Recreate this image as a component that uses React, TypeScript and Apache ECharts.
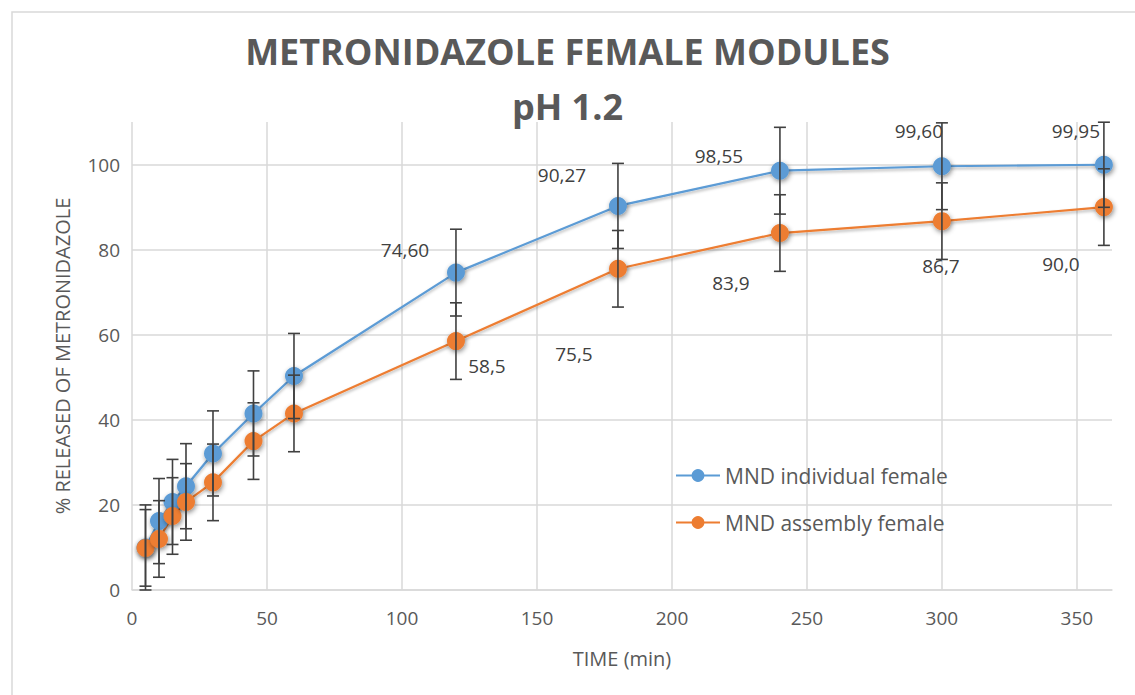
import React, { useEffect, useRef } from "react";
import * as echarts from "echarts";

const times = [5, 10, 15, 20, 30, 45, 60, 120, 180, 240, 300, 360];
const individual = [10.0, 16.2, 20.7, 24.4, 32.1, 41.5, 50.3, 74.6, 90.27, 98.55, 99.6, 99.95];
const assembly = [9.9, 12.0, 17.4, 20.7, 25.3, 35.0, 41.5, 58.5, 75.5, 83.9, 86.7, 90.0];
const individualErr = [10, 10, 10, 10, 10, 10, 10, 10.2, 10, 10.2, 10.2, 10];
const assemblyErr = [9, 9, 9, 9, 9, 9, 9, 9, 9, 9, 9, 9];
const labeledFrom = 7;
const individualLabelOffsets = [[-51, -23], [-56, -31], [-61, -15], [-23, -35], [-28, -34]];
const assemblyLabelOffsets = [[31, 25], [-44, 85], [-49, 50], [-1, 45], [-43, 57]];
const xTicks = [0, 50, 100, 150, 200, 250, 300, 350];
const yTicks = [0, 20, 40, 60, 80, 100];
const seriesNames = ["MND individual female", "MND assembly female"];

const BLUE = "#5B9BD5";
const ORANGE = "#ED7D31";
const TXT = "#595959";
const GRID = "#d9d9d9";
const FONT = "'Open Sans', 'Liberation Sans', sans-serif";

function buildLine(vals: number[], offsets: number[][], decimals: number) {
  return times.map((t, i) => {
    const item: any = { value: [t, vals[i]] };
    if (i >= labeledFrom) {
      const off = offsets[i - labeledFrom];
      item.label = {
        show: true,
        position: "inside",
        align: "center",
        verticalAlign: "middle",
        offset: off,
        formatter: vals[i].toFixed(decimals).replace(".", ","),
        color: "#404040",
        fontSize: 19,
        fontFamily: FONT,
      };
    }
    return item;
  });
}

function errData(vals: number[], errs: number[]) {
  return times.map((t, i) => [t, vals[i] - errs[i], vals[i] + errs[i]]);
}

const renderErr = (params: any, api: any) => {
  const x = api.value(0);
  const top = api.coord([x, api.value(2)]);
  const bot = api.coord([x, api.value(1)]);
  const w = 6;
  const style = { stroke: "#404040", lineWidth: 1.6 };
  return {
    type: "group",
    children: [
      { type: "line", shape: { x1: top[0], y1: top[1], x2: bot[0], y2: bot[1] }, style },
      { type: "line", shape: { x1: top[0] - w, y1: top[1], x2: top[0] + w, y2: top[1] }, style },
      { type: "line", shape: { x1: bot[0] - w, y1: bot[1], x2: bot[0] + w, y2: bot[1] }, style },
    ],
  };
};

export default function App() {
  const ref = useRef<HTMLDivElement>(null);
  useEffect(() => {
    if (!ref.current) return;
    const chart = echarts.init(ref.current, undefined, { renderer: "svg" });
    const symbolStyle = (c: string) => ({
      color: c,
      shadowBlur: 5,
      shadowColor: "rgba(0,0,0,0.45)",
      shadowOffsetX: 1,
      shadowOffsetY: 2,
    });
    chart.setOption({
      animation: false,
      backgroundColor: "#ffffff",
      textStyle: { fontFamily: FONT },
      title: {
        text: "METRONIDAZOLE FEMALE MODULES\npH 1.2",
        left: "center",
        top: 19,
        textStyle: {
          fontFamily: FONT,
          fontWeight: "bold",
          fontSize: 36,
          lineHeight: 55,
          color: TXT,
        },
      },
      graphic: [
        {
          type: "rect",
          shape: { x: 12, y: 12, width: 1140, height: 700 },
          style: { fill: "none", stroke: GRID, lineWidth: 1.5 },
          silent: true,
        },
      ],
      legend: {
        orient: "vertical",
        left: 670,
        top: 460,
        itemWidth: 44,
        itemHeight: 16,
        itemGap: 26,
        data: seriesNames,
        textStyle: { color: TXT, fontSize: 21, fontFamily: FONT },
      },
      grid: { left: 132, right: 23, top: 122, bottom: 105 },
      xAxis: {
        type: "value",
        min: 0,
        max: 363,
        interval: 50,
        name: "TIME (min)",
        nameLocation: "middle",
        nameGap: 58,
        nameTextStyle: { color: TXT, fontSize: 20, fontFamily: FONT },
        axisLine: { show: true, lineStyle: { color: GRID, width: 1.5 } },
        axisTick: { show: false },
        axisLabel: {
          color: TXT,
          fontSize: 19,
          margin: 18,
          formatter: (v: number) => (xTicks.includes(v) ? String(v) : ""),
        },
        splitLine: { show: true, showMaxLine: false, lineStyle: { color: GRID, width: 1.5 } },
      },
      yAxis: {
        type: "value",
        min: 0,
        max: 110,
        interval: 20,
        name: "% RELEASED OF METRONIDAZOLE",
        nameLocation: "middle",
        nameRotate: 90,
        nameGap: 60,
        nameTextStyle: { color: TXT, fontSize: 20, fontFamily: FONT },
        axisLine: { show: false },
        axisTick: { show: false },
        axisLabel: {
          color: TXT,
          fontSize: 19,
          margin: 12,
          formatter: (v: number) => (yTicks.includes(v) ? String(v) : ""),
        },
        splitLine: { show: true, showMaxLine: false, lineStyle: { color: GRID, width: 1.5 } },
      },
      series: [
        {
          name: seriesNames[0],
          type: "line",
          z: 3,
          data: buildLine(individual, individualLabelOffsets, 2),
          symbol: "circle",
          symbolSize: 18,
          itemStyle: symbolStyle(BLUE),
          lineStyle: { color: BLUE, width: 2.2, shadowBlur: 3, shadowColor: "rgba(0,0,0,0.3)", shadowOffsetY: 2 },
        },
        {
          name: seriesNames[1],
          type: "line",
          z: 3,
          data: buildLine(assembly, assemblyLabelOffsets, 1),
          symbol: "circle",
          symbolSize: 18,
          itemStyle: symbolStyle(ORANGE),
          lineStyle: { color: ORANGE, width: 2.2, shadowBlur: 3, shadowColor: "rgba(0,0,0,0.3)", shadowOffsetY: 2 },
        },
        {
          type: "custom",
          z: 4,
          silent: true,
          renderItem: renderErr,
          data: errData(individual, individualErr),
          encode: { x: 0, y: [1, 2] },
        },
        {
          type: "custom",
          z: 4,
          silent: true,
          renderItem: renderErr,
          data: errData(assembly, assemblyErr),
          encode: { x: 0, y: [1, 2] },
        },
      ],
    });
    return () => chart.dispose();
  }, []);
  return (
    <div
      ref={ref}
      style={{ position: "absolute", left: 0, top: 0, width: 1135, height: 695 }}
    />
  );
}
